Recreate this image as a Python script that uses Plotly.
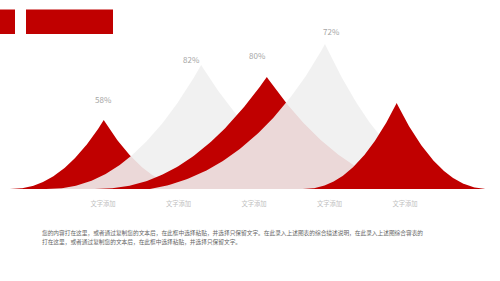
import numpy as np
import plotly.graph_objects as go

# ---- data ----
categories = ["文字添加", "文字添加", "文字添加", "文字添加", "文字添加"]
peak_values = [36.5, 65.6, 59.3, 76.7, 45.5]          # peak heights (axis %)
pct_labels = ["58%", "82%", "80%", "72%", ""]
series_kind = ["red", "gray", "red", "gray", "red"]
paragraph_lines = [
    "您的内容打在这里，或者通过复制您的文本后，在此框中选择粘贴，并选择只保留文字。在此录入上述图表的综合描述说明，在此录入上述图综合容表的",
    "打在这里，或者通过复制您的文本后，在此框中选择粘贴，并选择只保留文字。",
]

# ---- layout / style parameters ----
W, H = 500, 281
BASE_PX = 189                 # baseline pixel
STEP_PX = 75.5                # category spacing in px
FIRST_PX = 103                # first category pixel
peak_offsets = [0.01, 1.30, 2.17, 2.94, 3.89]       # peak positions on category axis
half_left = [94, 155, 172, 175, 94]                  # px
half_right = [94, 170, 172, 150, 93]                 # px
# flank profile: None -> power law, else bezier control points (u, h) from base to peak
left_profile = [None, None, None, ((0.45, 0.10), (0.12, 0.73)), None]
right_profile = [None, None, None, None, None]
label_pos = [(0.0, 47.1), (1.166, 68.3), (2.04, 70.9), (3.02, 83.1)]
EXP = 2.2
RED = "#C00000"
GRAY = "rgba(240,240,240,0.9)"
FONT = "Noto Sans CJK SC"

t = np.linspace(0, 1, 100)


def flank(prof):
    """returns (u, hf) from base (u=1, hf=0) to peak (u=0, hf=1)"""
    if prof is None:
        s = t
        return 1 - s, s ** EXP
    (u1, h1), (u2, h2) = prof
    a, b, c, d = (1 - t) ** 3, 3 * (1 - t) ** 2 * t, 3 * (1 - t) * t ** 2, t ** 3
    u = a * 1 + b * u1 + c * u2 + d * 0
    h = a * 0 + b * h1 + c * h2 + d * 1
    return u, h


fig = go.Figure()
for i, v in enumerate(peak_values):
    p = peak_offsets[i]
    L = half_left[i] / STEP_PX
    R = half_right[i] / STEP_PX
    ul, hl = flank(left_profile[i])
    ur, hr = flank(right_profile[i])
    xs = np.concatenate([p - L * ul, p + R * ur[::-1]])
    ys = np.concatenate([v * hl, v * hr[::-1]])
    fig.add_trace(go.Scatter(
        x=xs, y=ys, mode="lines", fill="toself",
        fillcolor=RED if series_kind[i] == "red" else GRAY,
        line=dict(width=0), hoverinfo="skip", showlegend=False))

for (lx, ly), txt in zip(label_pos, pct_labels):
    fig.add_annotation(x=lx, y=ly, text=txt, showarrow=False,
                       font=dict(family=FONT, size=8, color="#a6a6a6"))


def py(pix):
    return (BASE_PX - pix) / BASE_PX


# header rectangles
fig.add_shape(type="rect", xref="paper", yref="paper", x0=0, x1=15 / W,
              y0=py(34), y1=py(9.5), fillcolor=RED, line_width=0)
fig.add_shape(type="rect", xref="paper", yref="paper", x0=26 / W, x1=113 / W,
              y0=py(34), y1=py(9.5), fillcolor=RED, line_width=0)

for k, line in enumerate(paragraph_lines):
    fig.add_annotation(xref="paper", yref="paper", x=40 / W, y=py(232 + 9 * k),
                       xanchor="left", yanchor="middle", text=line, showarrow=False,
                       font=dict(family=FONT, size=5.7, color="#666666"))

x0 = -FIRST_PX / STEP_PX
x1 = (W - FIRST_PX) / STEP_PX
fig.update_layout(
    width=W, height=H, margin=dict(l=0, r=0, t=0, b=H - BASE_PX),
    paper_bgcolor="white", plot_bgcolor="white",
    xaxis=dict(range=[x0, x1], tickvals=list(range(len(categories))), ticktext=categories,
               showgrid=False, zeroline=False, showline=False,
               ticks="outside", ticklen=8, tickcolor="rgba(0,0,0,0)",
               tickfont=dict(family=FONT, size=6.3, color="#bfbfbf"), fixedrange=True),
    yaxis=dict(range=[0, 100], visible=False, fixedrange=True),
)
fig.write_html("out.html")
